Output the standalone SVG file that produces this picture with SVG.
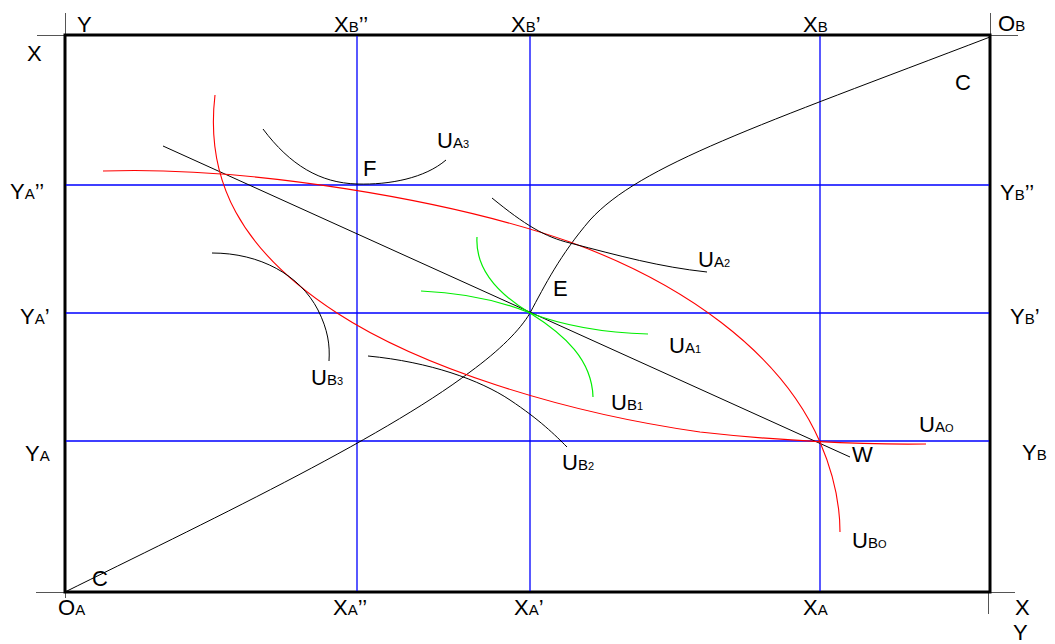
<svg xmlns="http://www.w3.org/2000/svg" width="1055" height="644" viewBox="0 0 1055 644">
<style>
text{font-family:"Liberation Sans",Arial,sans-serif;font-size:22px;fill:#000}
.s{font-size:15px}
.d{font-size:11px}
.thin{fill:none;stroke:#000;stroke-width:1}
.ext{fill:none;stroke:#555;stroke-width:1}
.grid{fill:none;stroke:#0000ff;stroke-width:1.3}
.red{fill:none;stroke:#ff0000;stroke-width:1.1}
.grn{fill:none;stroke:#00ee00;stroke-width:1.2}
</style>
<rect width="1055" height="644" fill="#fff"/>
<g id="frame">
<path class="ext" d="M37,35.5H65.5V13M36,592.5H65.5V598M990.5,13V35.5H1018M987,592.5H1015M988.5,592V614"/>
<rect x="65" y="35" width="925" height="557" fill="none" stroke="#000" stroke-width="3"/>
</g>
<g id="grid">
<path class="grid" d="M357,36V591M530,36V591M820,36V591M66,185H989M66,313H989M66,441H989"/>
</g>
<g id="connectors">
<path id="contract-curve" class="thin" d="M65,592 C200,525 380,440 470,372 C500,350 520,330 530,313 C545,285 560,255 590,220 C640,165 760,125 990,37"/>
<path id="price-line" class="thin" d="M163,146 L850,457"/>
</g>
<g id="UA0"><path class="red" d="M215,95 C205,180 240,250 337,313 C420,367 560,412 700,432 C770,440 860,445 926,444"/></g>
<g id="UB0"><path class="red" d="M103,171 C250,166 450,200 570,242 C680,282 780,350 820,442 C832,470 840,500 840,532"/></g>
<g id="UA3"><path class="thin" d="M263,129 C290,165 320,183 357,184 C390,185 425,178 446,160"/></g>
<g id="UA2"><path class="thin" d="M492,198 C525,225 545,237 570,243 C620,256 660,267 707,272"/></g>
<g id="UB3"><path class="thin" d="M212,253 C260,253 300,275 318,310 C328,330 330,345 329,361"/></g>
<g id="UB2"><path class="thin" d="M368,356 C430,362 480,380 510,400 C540,420 555,435 567,447"/></g>
<g id="UA1"><path class="grn" d="M421,291 C470,293 505,303 530,313 C570,328 610,333 648,334"/></g>
<g id="UB1"><path class="grn" d="M477,237 C475,270 500,295 530,313 C565,335 592,360 593,397"/></g>
<g id="labels">
<text x="77" y="32">Y</text>
<text x="27" y="61">X</text>
<text x="334" y="32">X<tspan class="s">B</tspan>’’</text>
<text x="511" y="32">X<tspan class="s">B</tspan>’</text>
<text x="803" y="32">X<tspan class="s">B</tspan></text>
<text x="998" y="31">O<tspan class="s">B</tspan></text>
<text x="955" y="90">C</text>
<text x="10" y="199">Y<tspan class="s">A</tspan>’’</text>
<text x="1000" y="200">Y<tspan class="s">B</tspan>’’</text>
<text x="363" y="176">F</text>
<text x="437" y="148">U<tspan class="s">A</tspan><tspan class="d">3</tspan></text>
<text x="698" y="267">U<tspan class="s">A</tspan><tspan class="d">2</tspan></text>
<text x="553" y="296">E</text>
<text x="20" y="324">Y<tspan class="s">A</tspan>’</text>
<text x="1010" y="324">Y<tspan class="s">B</tspan>’</text>
<text x="669" y="353">U<tspan class="s">A</tspan><tspan class="d">1</tspan></text>
<text x="311" y="385">U<tspan class="s">B</tspan><tspan class="d">3</tspan></text>
<text x="611" y="410">U<tspan class="s">B</tspan><tspan class="d">1</tspan></text>
<text x="919" y="432">U<tspan class="s">A</tspan><tspan class="d">O</tspan></text>
<text x="25" y="461">Y<tspan class="s">A</tspan></text>
<text x="852" y="462">W</text>
<text x="1022" y="460">Y<tspan class="s">B</tspan></text>
<text x="562" y="470">U<tspan class="s">B</tspan><tspan class="d">2</tspan></text>
<text x="852" y="548">U<tspan class="s">B</tspan><tspan class="d">O</tspan></text>
<text x="92" y="586">C</text>
<text x="58" y="615">O<tspan class="s">A</tspan></text>
<text x="333" y="615">X<tspan class="s">A</tspan>’’</text>
<text x="514" y="615">X<tspan class="s">A</tspan>’</text>
<text x="803" y="615">X<tspan class="s">A</tspan></text>
<text x="1015" y="615">X</text>
<text x="1013" y="640">Y</text>
</g>
</svg>
